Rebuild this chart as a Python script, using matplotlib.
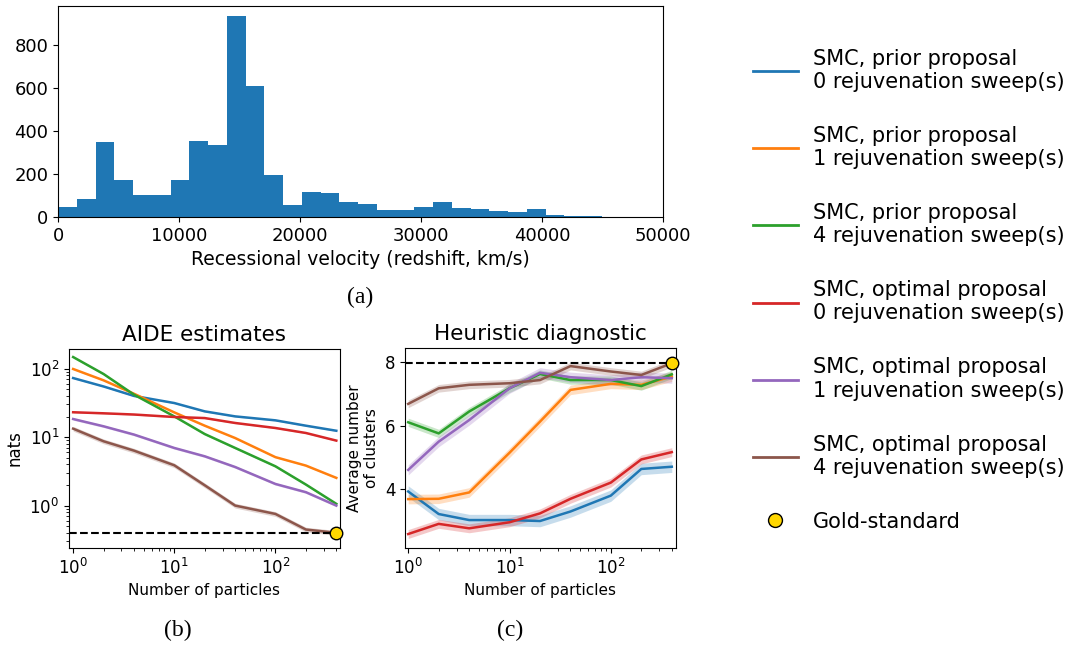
import numpy as np
import matplotlib
matplotlib.use("Agg")
import matplotlib.pyplot as plt
from matplotlib.lines import Line2D

# histogram of recessional velocities (bin width ~1550 km/s)
bin_edges = np.linspace(0, 46500, 31)
hist_counts = [45, 82, 348, 171, 101, 101, 171, 352, 334, 935,
               609, 194, 54, 115, 110, 68, 59, 34, 34, 45,
               68, 40, 36, 26, 22, 36, 8, 3, 3, 2]

particles = [1, 2, 4, 10, 20, 40, 100, 200, 400]

labels = [
    "SMC, prior proposal\n0 rejuvenation sweep(s)",
    "SMC, prior proposal\n1 rejuvenation sweep(s)",
    "SMC, prior proposal\n4 rejuvenation sweep(s)",
    "SMC, optimal proposal\n0 rejuvenation sweep(s)",
    "SMC, optimal proposal\n1 rejuvenation sweep(s)",
    "SMC, optimal proposal\n4 rejuvenation sweep(s)",
]
colors = ["#1f77b4", "#ff7f0e", "#2ca02c", "#d62728", "#9467bd", "#8c564b"]

# AIDE estimates (nats)
aide_prior0 = [73, 55, 40, 31.5, 23.8, 20.1, 17.6, 14.7, 12.4]
aide_prior1 = [99, 67.6, 43, 23, 14.7, 9.7, 5.1, 3.84, 2.54]
aide_prior4 = [148, 83.6, 41.7, 20.1, 11.1, 6.95, 3.75, 2.03, 1.06]
aide_opt0 = [23.1, 22.3, 21.4, 19.7, 19.0, 16.1, 13.6, 11.5, 8.9]
aide_opt1 = [18.4, 14.4, 10.9, 6.95, 5.25, 3.66, 2.07, 1.57, 1.0]
aide_opt4 = [13.3, 8.7, 6.35, 3.88, 1.98, 1.0, 0.755, 0.447, 0.40]
aide_err = [0.02, 0.02, 0.03, 0.02, 0.04, 0.08]  # relative band half-width
aide_gold = 0.394

# heuristic diagnostic (average number of clusters)
heur_prior0 = [3.93, 3.22, 3.03, 3.03, 3.00, 3.30, 3.80, 4.64, 4.71]
heur_prior1 = [3.69, 3.70, 3.90, 5.15, 6.13, 7.13, 7.32, 7.29, 7.55]
heur_prior4 = [6.11, 5.76, 6.45, 7.18, 7.63, 7.44, 7.44, 7.25, 7.62]
heur_opt0 = [2.59, 2.91, 2.77, 2.96, 3.24, 3.70, 4.21, 4.94, 5.17]
heur_opt1 = [4.61, 5.50, 6.18, 7.18, 7.67, 7.53, 7.44, 7.53, 7.50]
heur_opt4 = [6.69, 7.18, 7.29, 7.34, 7.44, 7.88, 7.71, 7.60, 7.97]
heur_err = [0.18, 0.15, 0.13, 0.14, 0.16, 0.12]
heur_gold = 7.97

aide_series = [aide_prior0, aide_prior1, aide_prior4, aide_opt0, aide_opt1, aide_opt4]
heur_series = [heur_prior0, heur_prior1, heur_prior4, heur_opt0, heur_opt1, heur_opt4]

W, H = 1070, 647
fig = plt.figure(figsize=(W / 100, H / 100), dpi=100)


def box(l, t, r, b):
    return [l / W, 1 - b / H, (r - l) / W, (b - t) / H]


# (a) histogram
ax_h = fig.add_axes(box(58, 6, 663, 217))
ax_h.hist(bin_edges[:-1], bins=bin_edges, weights=hist_counts, color="#1f77b4")
ax_h.set_xlim(0, 50000)
ax_h.set_xticks(np.arange(0, 50001, 10000))
ax_h.set_yticks([0, 200, 400, 600, 800])
ax_h.tick_params(labelsize=13)
ax_h.set_xlabel("Recessional velocity (redshift, km/s)", fontsize=13.5)

# (b) AIDE
ax_a = fig.add_axes(box(69, 349, 340, 548))
x = np.array(particles)
for vals, err, c in zip(aide_series, aide_err, colors):
    v = np.array(vals)
    ax_a.fill_between(x, v * (1 - err), v * (1 + err), color=c, alpha=0.25, lw=0)
    ax_a.plot(x, v, color=c, lw=1.8)
ax_a.axhline(aide_gold, color="black", ls="--", lw=1.5)
ax_a.plot([particles[-1]], [aide_gold], "o", color="gold", mec="black",
          ms=9, clip_on=False, zorder=5)
ax_a.set_xscale("log")
ax_a.set_yscale("log")
ax_a.set_xlim(0.91, 435)
ax_a.set_ylim(0.24, 194)
ax_a.set_title("AIDE estimates", fontsize=15.5)
ax_a.set_xlabel("Number of particles", fontsize=11)
ax_a.set_ylabel("nats", fontsize=12)
ax_a.tick_params(labelsize=12)

# (c) heuristic
ax_c = fig.add_axes(box(405, 348, 676, 548))
for vals, err, c in zip(heur_series, heur_err, colors):
    v = np.array(vals)
    ax_c.fill_between(x, v - err, v + err, color=c, alpha=0.25, lw=0)
    ax_c.plot(x, v, color=c, lw=1.8)
ax_c.axhline(heur_gold, color="black", ls="--", lw=1.5)
ax_c.plot([particles[-1]], [heur_gold], "o", color="gold", mec="black",
          ms=9, clip_on=False, zorder=5)
ax_c.set_xscale("log")
ax_c.set_xlim(0.93, 440)
ax_c.set_ylim(2.15, 8.45)
ax_c.set_yticks([4, 6, 8])
ax_c.set_title("Heuristic diagnostic", fontsize=15.5)
ax_c.set_xlabel("Number of particles", fontsize=11)
ax_c.set_ylabel("Average number\nof clusters", fontsize=11)
ax_c.tick_params(labelsize=12)

# captions
cap = dict(ha="center", va="center", fontsize=17, family="Liberation Serif")
fig.text(360 / W, 1 - 297 / H, "(a)", **cap)
fig.text(178 / W, 1 - 630 / H, "(b)", **cap)
fig.text(510 / W, 1 - 630 / H, "(c)", **cap)

# legend
handles = [Line2D([], [], color=c, lw=2) for c in colors]
handles.append(Line2D([], [], ls="none", marker="o", color="gold", mec="black", ms=10))
fig.legend(handles, labels + ["Gold-standard"], loc="upper left",
           bbox_to_anchor=(734 / W, 1 - 30 / H), frameon=False, fontsize=15,
           labelspacing=1.63, handlelength=2.16, handletextpad=0.72)

fig.savefig("out.png", dpi=100)
